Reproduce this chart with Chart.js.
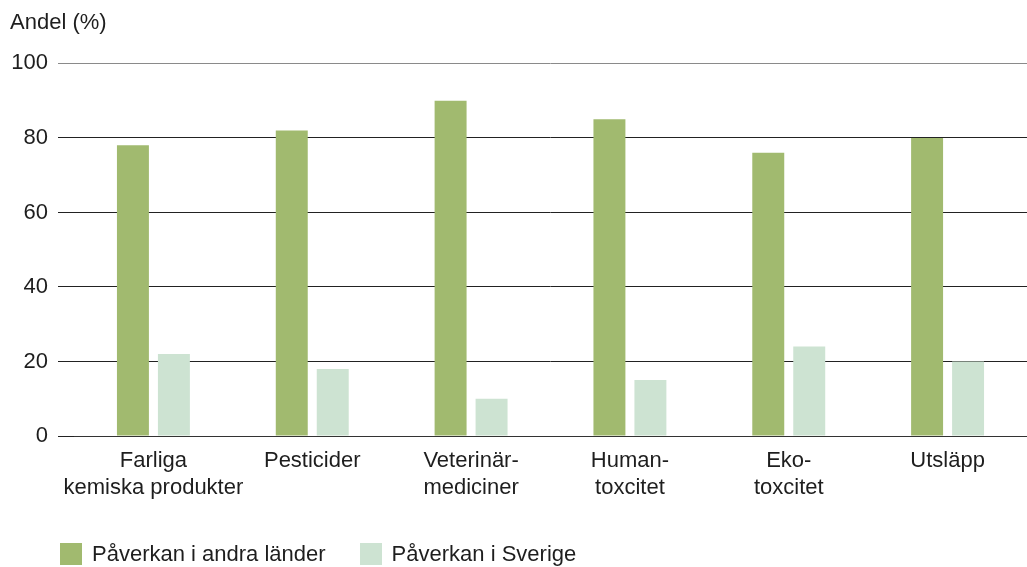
<!DOCTYPE html>
<html>
<head>
<meta charset="utf-8">
<script src="https://cdn.jsdelivr.net/npm/chart.js@4"></script>
<style>
  html, body { margin: 0; padding: 0; background: #fff; }
  #wrap { position: relative; width: 1027px; height: 567px; }
  canvas { position: absolute; left: 0; top: 0; }
  #legend { position: absolute; left: 60px; top: 541px; font-family: 'Liberation Sans', Arial, sans-serif; font-size: 22px; color: #1e1e1e; display: flex; align-items: center; }
  .item { display: flex; align-items: center; margin-right: 34px; }
  .box { width: 22px; height: 22px; margin-right: 10px; }
</style>
</head>
<body>
<div id="wrap">
  <canvas id="c" width="1027" height="567"></canvas>
  <div id="legend"></div>
</div>
<script>
const categories = [['Farliga', 'kemiska produkter'], 'Pesticider', ['Veterinär-', 'mediciner'], ['Human-', 'toxcitet'], ['Eko-', 'toxcitet'], 'Utsläpp'];
const seriesNames = ['Påverkan i andra länder', 'Påverkan i Sverige'];
const andraLander = [78, 82, 90, 85, 76, 80];
const sverige = [22, 18, 10, 15, 24, 20];
const yTicks = [0, 20, 40, 60, 80, 100];
const colors = ['#a1ba6f', '#cde3d2'];

const FONT = "'Liberation Sans', Arial, sans-serif";
const TEXT = '#1e1e1e';

new Chart(document.getElementById('c'), {
  type: 'bar',
  data: {
    labels: categories,
    datasets: [
      { label: seriesNames[0], data: andraLander, backgroundColor: colors[0], categoryPercentage: 0.516, barPercentage: 0.78 },
      { label: seriesNames[1], data: sverige, backgroundColor: colors[1], categoryPercentage: 0.516, barPercentage: 0.78 }
    ]
  },
  options: {
    responsive: false,
    animation: false,
    layout: { padding: { left: 10, right: 0, top: 10, bottom: 0 } },
    plugins: {
      legend: { display: false },
      tooltip: { enabled: false },
      title: {
        display: true, text: 'Andel (%)', align: 'start', color: TEXT,
        font: { family: FONT, size: 22, weight: 'normal' },
        padding: { top: 0, bottom: 27 }
      }
    },
    scales: {
      x: {
        grid: { display: false, drawTicks: false },
        border: { display: true, color: '#333', width: 1 },
        ticks: { color: TEXT, font: { family: FONT, size: 22, lineHeight: 1.25 }, padding: 11, maxRotation: 0, autoSkip: false },
        afterFit: s => { s.height = 131; }
      },
      y: {
        min: 0, max: 100,
        afterBuildTicks: s => { s.ticks = yTicks.map(v => ({ value: v })); },
        border: { display: false },
        grid: {
          color: ctx => (ctx.tick && ctx.tick.value === 100) ? '#8a8a8a' : '#222',
          lineWidth: 1, drawTicks: true, tickLength: 16
        },
        ticks: { color: TEXT, font: { family: FONT, size: 22 }, padding: 10 },
        afterFit: s => { s.width = 64; }
      }
    }
  }
});

const lg = document.getElementById('legend');
seriesNames.forEach((n, i) => {
  const it = document.createElement('div'); it.className = 'item';
  const b = document.createElement('div'); b.className = 'box'; b.style.background = colors[i];
  const t = document.createElement('span'); t.textContent = n;
  it.appendChild(b); it.appendChild(t); lg.appendChild(it);
});
</script>
</body>
</html>
